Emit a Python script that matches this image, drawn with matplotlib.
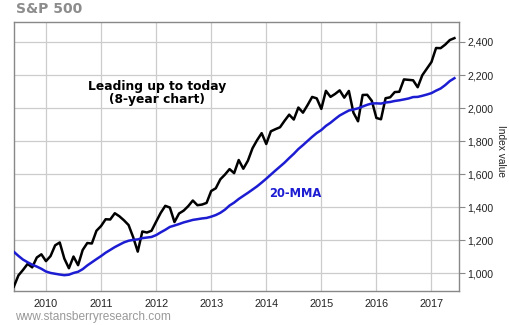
import matplotlib.pyplot as plt
from matplotlib.ticker import FuncFormatter

# monthly closes, June 2009 .. June 2017
start_year, start_month = 2009, 6
closes = [
    919.32, 987.48, 1020.62, 1057.08, 1036.19, 1095.63, 1115.10,
    1073.87, 1104.49, 1169.43, 1186.69, 1089.41, 1030.71, 1101.60, 1049.33, 1141.20, 1183.26, 1180.55, 1257.64,
    1286.12, 1327.22, 1325.83, 1363.61, 1345.20, 1320.64, 1292.28, 1218.89, 1131.42, 1253.30, 1246.96, 1257.60,
    1312.41, 1365.68, 1408.47, 1397.91, 1310.33, 1362.16, 1379.32, 1406.58, 1440.67, 1412.16, 1416.18, 1426.19,
    1498.11, 1514.68, 1569.19, 1597.57, 1630.74, 1606.28, 1685.73, 1632.97, 1681.55, 1756.54, 1805.81, 1848.36,
    1782.59, 1859.45, 1872.34, 1883.95, 1923.57, 1960.23, 1930.67, 2003.37, 1972.29, 2018.05, 2067.56, 2058.90,
    1994.99, 2104.50, 2067.89, 2085.51, 2107.39, 2063.11, 2103.84, 1972.18, 1920.03, 2079.36, 2080.41, 2043.94,
    1940.24, 1932.23, 2059.74, 2065.30, 2096.95, 2098.86, 2173.60, 2170.95, 2168.27, 2126.15, 2198.81, 2238.83,
    2278.87, 2363.64, 2362.72, 2384.20, 2411.80, 2423.41,
]

# 20-month moving average, same months
mma20 = [
    1130.1, 1105.4, 1083.0, 1067.0, 1052.2, 1040.9, 1027.4,
    1011.0, 1002.3, 997.4, 992.6, 988.7, 991.8, 1002.1, 1009.4, 1025.2, 1047.6, 1066.7, 1085.9,
    1104.3, 1124.7, 1141.6, 1158.7, 1173.2, 1187.4, 1197.2, 1202.4, 1205.3, 1212.7, 1216.6, 1220.1,
    1231.3, 1248.0, 1263.4, 1280.8, 1289.3, 1298.2, 1308.1, 1315.6, 1323.3, 1327.6, 1332.1, 1335.2,
    1342.9, 1352.6, 1366.4, 1385.3, 1410.3, 1428.0, 1449.9, 1468.7, 1487.1, 1506.7, 1526.5, 1549.1,
    1572.7, 1597.5, 1622.2, 1646.1, 1670.2, 1697.6, 1723.3, 1752.2, 1775.9, 1801.1, 1826.0, 1849.0,
    1867.3, 1892.2, 1911.3, 1933.9, 1955.2, 1970.5, 1985.4, 1991.6, 1998.5, 2009.5, 2019.9, 2027.9,
    2028.7, 2027.3, 2033.8, 2036.9, 2043.1, 2047.1, 2052.4, 2058.1, 2066.7, 2067.8, 2074.3, 2082.0,
    2090.6, 2105.6, 2118.6, 2139.2, 2163.7, 2180.9,
]

years = [2010, 2011, 2012, 2013, 2014, 2015, 2016, 2017]
yticks = [1000, 1200, 1400, 1600, 1800, 2000, 2200, 2400]

# fractional-year position of each month
t = [start_year + (start_month - 1 + i) / 12 for i in range(len(closes))]

fig = plt.figure(figsize=(5.1, 3.25), dpi=100)
ax = fig.add_axes([0.0275, 0.1046, 0.8725, 0.8277])

ax.plot(t, closes, color='black', lw=1.8, zorder=3)
ax.plot(t, mma20, color='#1c1cd2', lw=1.8, zorder=3)

ax.set_xlim(2009.42, 2017.5)
ax.set_ylim(893, 2521)
ax.set_xticks(years)
ax.set_xticklabels([str(y) for y in years])
ax.set_yticks(yticks)
ax.yaxis.set_major_formatter(FuncFormatter(lambda v, p: f'{int(v):,}'))
ax.yaxis.tick_right()
ax.yaxis.set_label_position('right')
ax.set_ylabel('Index value', rotation=-90, fontsize=7.3, va='center', ha='center',
              family='Liberation Sans', color='#222222')
ax.yaxis.set_label_coords(1.094, 0.52)

ax.grid(True, color='#cccccc', lw=0.9)
ax.set_axisbelow(True)
for s in ax.spines.values():
    s.set_color('#888888')
    s.set_linewidth(1.0)
ax.tick_params(axis='x', length=0, pad=6, labelsize=7.8, labelcolor='#222222')
ax.tick_params(axis='y', length=4, width=0.8, color='#888888', pad=2,
               labelsize=7.6, labelcolor='#222222')
for lab in ax.get_xticklabels() + ax.get_yticklabels():
    lab.set_family('Liberation Sans')

ax.text(2012.01, 2091, 'Leading up to today\n(8-year chart)', ha='center', va='center',
        fontsize=8.8, fontweight='bold', color='black', linespacing=1.0)
ax.text(2014.05, 1486, '20-MMA', ha='left', va='center', fontsize=8.3,
        fontweight='bold', color='#1c1cd2')

fig.text(16 / 510, 1 - 9 / 325, 'S&P 500', ha='left', va='center', fontsize=10,
         fontweight='bold', color='#8c8c8c')
fig.text(15 / 510, 1 - 317 / 325, 'www.stansberryresearch.com', ha='left', va='center',
         fontsize=8.6, family='Liberation Sans', color='#999999')

fig.savefig('out.png', dpi=100)
